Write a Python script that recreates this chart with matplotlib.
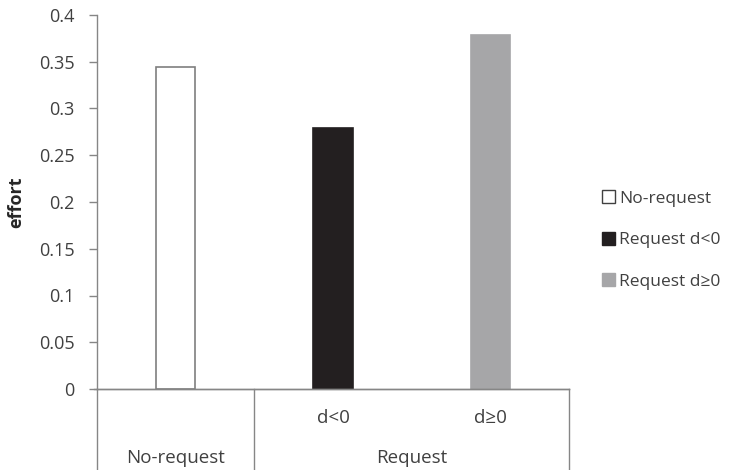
import numpy as np
import matplotlib.pyplot as plt
from matplotlib.patches import Patch
import matplotlib.transforms as mtransforms

plt.rcParams['font.family'] = ['Open Sans', 'DejaVu Sans']

# effort by treatment
groups = ["No-request", "Request"]
sub_labels = ["", "d<0", "d\u22650"]
series = ["No-request", "Request d<0", "Request d\u22650"]
effort = [0.344, 0.279, 0.379]
fills = ["white", "#231f20", "#a6a6a8"]
edges = ["#7f7f7f", "#231f20", "#a6a6a8"]

txt = "#404040"
axis_col = "#868686"

fig = plt.figure(figsize=(7.29, 4.70), dpi=100)
ax = fig.add_axes([97/729, (470-389)/470, (569-97)/729, (389-15)/470])

x = np.arange(len(effort))
bars = ax.bar(x, effort, width=0.25, color=fills, edgecolor=edges, linewidth=1.2)

ax.set_xlim(-0.5, 2.5)
ax.set_ylim(0, 0.4)
ax.set_yticks(np.arange(0, 0.401, 0.05))
ax.set_yticklabels(["0", "0.05", "0.1", "0.15", "0.2", "0.25", "0.3", "0.35", "0.4"])
ax.tick_params(axis='y', colors=axis_col, labelcolor=txt, labelsize=13, length=6, width=1, pad=10)
ax.set_xticks([])
for s in ["top", "right"]:
    ax.spines[s].set_visible(False)
for s in ["left", "bottom"]:
    ax.spines[s].set_color(axis_col)
    ax.spines[s].set_linewidth(1)

ax.set_ylabel("effort", fontsize=13, fontweight="bold", color="#262626", labelpad=10)

# two-level category axis below the plot
trans = mtransforms.blended_transform_factory(ax.transData, ax.transAxes)
bottom = -(470 - 389) / 374
for xs in [-0.5, 0.5, 2.5]:
    ax.plot([xs, xs], [0, bottom], transform=trans, color=axis_col, lw=1, clip_on=False)
ax.plot([-0.52, 2.5], [0, 0], transform=trans, color=axis_col, lw=1, clip_on=False)

for xi, lab in zip(x, sub_labels):
    if lab:
        ax.text(xi, -0.078, lab, transform=trans, ha="center", va="center", fontsize=13.5, color=txt)
ax.text(0, -0.184, groups[0], transform=trans, ha="center", va="center", fontsize=13.5, color=txt)
ax.text(1.5, -0.184, groups[1], transform=trans, ha="center", va="center", fontsize=13.5, color=txt)

handles = [Patch(facecolor=f, edgecolor=e if f != "white" else "#404040", linewidth=1) for f, e in zip(fills, edges)]
fig.legend(handles, series, loc="center left", bbox_to_anchor=(586/729, 1 - 240/470),
           frameon=False, fontsize=12.5, handlelength=0.75, handleheight=0.75,
           handletextpad=0.25, labelspacing=1.45, labelcolor=txt)

plt.savefig("out.png", dpi=100)
